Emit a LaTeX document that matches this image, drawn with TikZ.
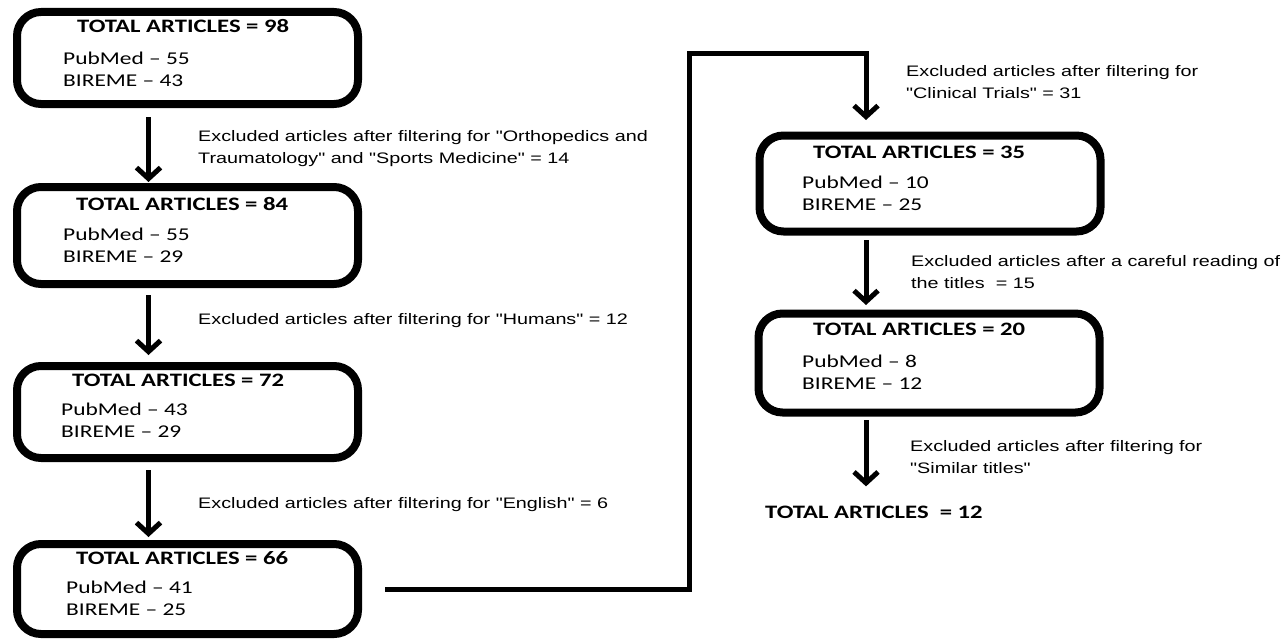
\documentclass[tikz,border=0pt]{standalone}
\usepackage{fontspec}
\usetikzlibrary{arrows.meta}
\newfontfamily\calib[FakeStretch=1.3]{Carlito}
\newfontfamily\arialx[FakeStretch=1.3]{Liberation Sans}
\newcommand{\mylines}[1]{\begin{tabular}[t]{@{}l@{}}#1\end{tabular}}
\tikzset{
  box/.style={draw, line width=8pt, rounded corners=24pt, minimum width=341pt, inner sep=0pt, outer sep=0pt},
  ttl/.style={anchor=base west, inner sep=0pt, font=\calib\bfseries\fontsize{19}{23}\selectfont},
  body/.style={anchor=base west, inner sep=0pt, font=\calib\fontsize{18}{22}\selectfont},
  lbl/.style={anchor=base west, inner sep=0pt, font=\arialx\fontsize{15.2}{22}\selectfont},
  arr/.style={line width=5pt, -{Straight Barb[length=11pt,width=24pt,line width=5pt]}},
}
\begin{document}
\begin{tikzpicture}[x=1pt,y=-1pt]
\useasboundingbox (0,0) rectangle (1285,642);
\coordinate (colL) at (148.5,0);
\coordinate (colR) at (866,0);
\coordinate (jog) at (689,54);
% boxes
\node[box, minimum height=92pt] (b1) at (187.5,58) {};
\node[box, minimum height=97pt] (b2) at (187.5,235.5) {};
\node[box, minimum height=92pt] (b3) at (187.5,412) {};
\node[box, minimum height=90pt] (b4) at (187.5,589) {};
\node[box, minimum height=96pt] (b5) at (930,183.5) {};
\node[box, minimum height=99pt] (b6) at (929,363) {};
% box texts
\node[ttl] (t1) at (77,33) {TOTAL ARTICLES = 98};
\node[body] (d1) at (63,64) {\mylines{PubMed – 55\\BIREME – 43}};
\node[ttl] (t2) at (76,210) {TOTAL ARTICLES = 84};
\node[body] (d2) at (63,240) {\mylines{PubMed – 55\\BIREME – 29}};
\node[ttl] (t3) at (72,386) {TOTAL ARTICLES = 72};
\node[body] (d3) at (61,415) {\mylines{PubMed – 43\\BIREME – 29}};
\node[ttl] (t4) at (76,564) {TOTAL ARTICLES = 66};
\node[body] (d4) at (66,593) {\mylines{PubMed – 41\\BIREME – 25}};
\node[ttl] (t5) at (813,158) {TOTAL ARTICLES = 35};
\node[body] (d5) at (802,188) {\mylines{PubMed – 10\\BIREME – 25}};
\node[ttl] (t6) at (813,335) {TOTAL ARTICLES = 20};
\node[body] (d6) at (802,367) {\mylines{PubMed – 8\\BIREME – 12}};
\node[ttl] (fin) at (765,518) {TOTAL ARTICLES\ \ = 12};
% labels
\node[lbl] (l1) at (198,141) {\mylines{Excluded articles after filtering for "Orthopedics and\\Traumatology" and "Sports Medicine" = 14}};
\node[lbl] (l2) at (198,324) {Excluded articles after filtering for "Humans" = 12};
\node[lbl] (l3) at (198,508) {Excluded articles after filtering for "English" = 6};
\node[lbl] (l4) at (906,77) {\mylines{Excluded articles after filtering for\\"Clinical Trials" = 31}};
\node[lbl] (l5) at (911,266) {\mylines{Excluded articles after a careful reading of\\the titles\ \ = 15}};
\node[lbl] (l6) at (910,451) {\mylines{Excluded articles after filtering for\\"Similar titles"}};
% connectors
\draw[arr, shorten <=13pt, shorten >=5pt] (b1.south -| colL) -- (b2.north -| colL);
\draw[arr, shorten <=11pt, shorten >=11pt] (b2.south -| colL) -- (b3.north -| colL);
\draw[arr, shorten <=12pt, shorten >=7pt] (b3.south -| colL) -- (b4.north -| colL);
\draw[arr, shorten <=27pt, shorten >=15.5pt] (b4.east) -| (jog) -| (b5.north -| colR);
\draw[arr, shorten <=8.5pt, shorten >=8.5pt] (b5.south -| colR) -- (b6.north -| colR);
\draw[arr, shorten <=7.5pt, shorten >=19pt] (b6.south -| colR) -- (fin.north -| colR);
\end{tikzpicture}
\end{document}
